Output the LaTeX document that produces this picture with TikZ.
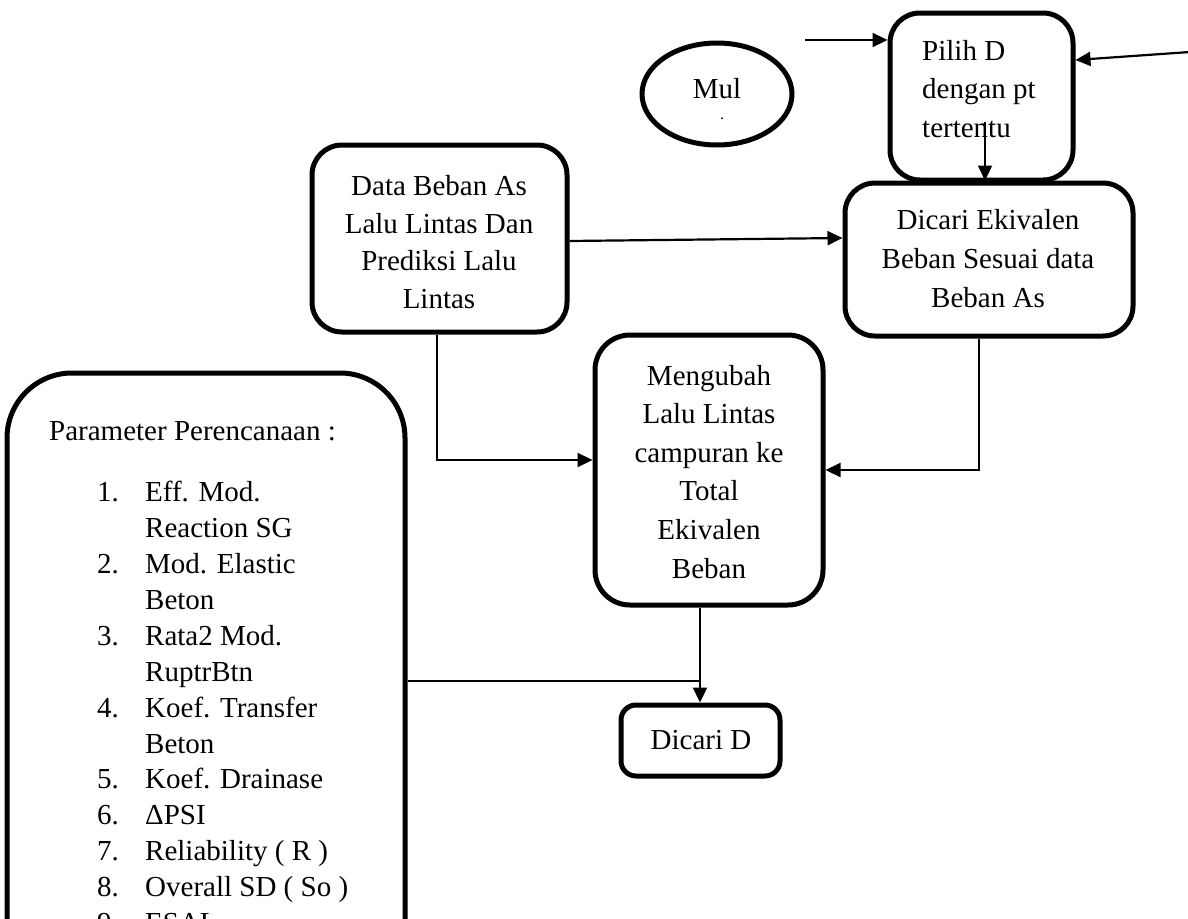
\documentclass[tikz,border=0pt]{standalone}
\usepackage{fontspec}
\setmainfont{Liberation Serif}
\usetikzlibrary{arrows.meta,shapes.geometric,calc}
\begin{document}
\begin{tikzpicture}[x=1pt,y=-1pt,
  box/.style={draw,line width=5pt,rounded corners=#1,inner sep=0pt},
  box/.default=30pt,
  txt/.style={inner sep=0pt,anchor=base,font=\fontsize{29}{36}\selectfont},
  txtl/.style={txt,anchor=base west},
  conn/.style={line width=2.2pt},
  arr/.style={conn,-{Triangle[length=15pt,width=14pt]}}]
\clip (0,0) rectangle (1188,918);
\fill[white] (0,0) rectangle (1188,918);

% shapes
\node[draw,ellipse,line width=5pt,minimum width=150pt,minimum height=102pt,inner sep=0pt] (mul) at (717,94) {};
\node[box] (pilih) at (981.5,96.5) [minimum width=183pt,minimum height=167pt] {};
\node[box] (data) at (439.5,238.5) [minimum width=255pt,minimum height=187pt] {};
\node[box] (eki) at (989,259.5) [minimum width=288pt,minimum height=153pt] {};
\node[box=35pt] (meng) at (709,470) [minimum width=228pt,minimum height=270pt] {};
\node[box=15pt] (dd) at (700.5,740.5) [minimum width=159pt,minimum height=71pt] {};
\node[box=65pt] (param) at (206,690) [minimum width=398pt,minimum height=634pt] {};

% texts
\node[txt] (tmul) at (717,98) {Mul};
\node[txt,font=\fontsize{16}{16}\selectfont] (tdot) at (722,119) {.};
\foreach \y/\t [count=\i] in {60/Pilih D,98/dengan pt,137/tertentu}
  \node[txtl] (tp\i) at (922,\y) {\t};
\foreach \y/\t [count=\i] in {195/Data Beban As,233/Lalu Lintas Dan,270/Prediksi Lalu,308/Lintas}
  \node[txt] (td\i) at (439,\y) {\t};
\foreach \y/\t [count=\i] in {229/Dicari Ekivalen,268/Beban Sesuai data,307/Beban As}
  \node[txt] (te\i) at (988,\y) {\t};
\foreach \y/\t [count=\i] in {385/Mengubah,423/Lalu Lintas,462/campuran ke,500/Total,539/Ekivalen,578/Beban}
  \node[txt] (tm\i) at (709,\y) {\t};
\node[txt] (tdd) at (701,749) {Dicari D};
\node[txtl] (ptitle) at (49,440) {Parameter Perencanaan :};
\foreach \k/\n in {0/1.,2/2.,4/3.,6/4.,8/5.,9/6.,10/7.,11/8.,12/9.}
  \node[txtl] (pn\k) at (97,{501.7+35.9*\k}) {\n};
\foreach \k/\t in {0/Eff. Mod.,1/Reaction SG,2/Mod. Elastic,3/Beton,4/Rata2 Mod.,5/RuptrBtn,6/Koef. Transfer,7/Beton,8/Koef. Drainase,9/ΔPSI,10/Reliability ( R ),11/Overall SD ( So ),12/ESAL}
  \node[txtl] (pt\k) at (145,{501.7+35.9*\k}) {\t};

% connectors
\coordinate (c1) at (805,40);
\draw[arr] (c1) -- ([yshift=56.5pt]pilih.west);
\coordinate (c2) at (1190,52);
\draw[arr] (c2) -- ([yshift=36.5pt]pilih.east);
\coordinate (c3) at (985,122);
\draw[arr] (c3) -- (c3 |- eki.north);
\draw[arr] ([yshift=-2.5pt]data.east) -- ([yshift=21.5pt]eki.west);
\draw[arr] ([xshift=-2.5pt]data.south) |- ([yshift=10pt]meng.west);
\draw[arr] ([xshift=-10pt]eki.south) |- (meng.east);
\draw[arr] ([xshift=-9pt]meng.south) -- ([xshift=-9pt]meng.south |- dd.north);
\draw[conn] ([yshift=9pt]param.east) -- ([yshift=9pt,xshift=-9pt]param.east -| meng.south);
\end{tikzpicture}
\end{document}
